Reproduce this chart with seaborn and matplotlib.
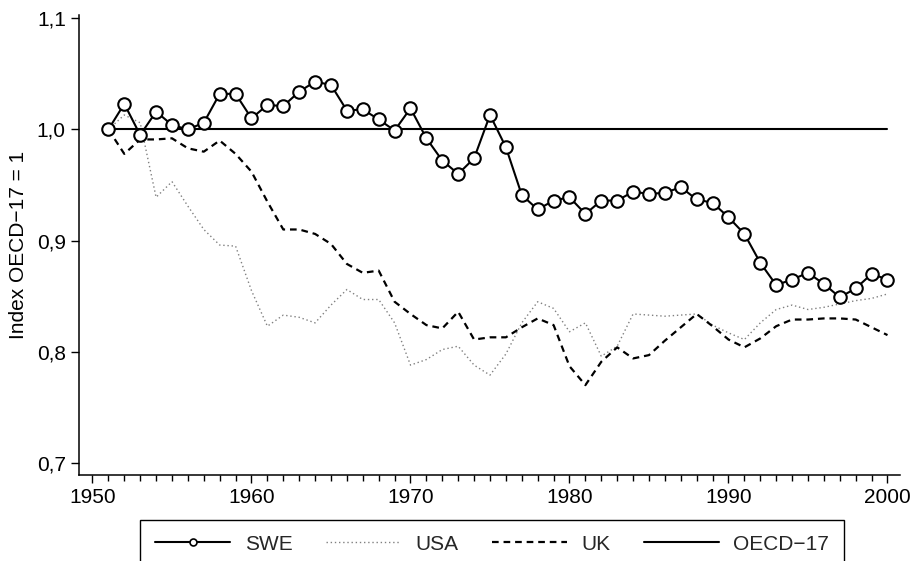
import matplotlib
matplotlib.use("Agg")
import matplotlib.pyplot as plt
import matplotlib.ticker as mticker
import pandas as pd
import seaborn as sns

years = list(range(1951, 2001))

swe = [
    1.000, 1.023, 0.995, 1.016, 1.004, 1.000, 1.006, 1.032, 1.032, 1.010,
    1.022, 1.021, 1.034, 1.043, 1.040, 1.017, 1.018, 1.009, 0.999, 1.019,
    0.992, 0.972, 0.960, 0.974, 1.013, 0.984, 0.941, 0.928, 0.936, 0.939,
    0.924, 0.936, 0.936, 0.944, 0.942, 0.943, 0.948, 0.937, 0.934, 0.921,
    0.906, 0.880, 0.860, 0.865, 0.871, 0.861, 0.849, 0.857, 0.870, 0.865,
]
usa = [
    1.000, 1.013, 1.006, 0.939, 0.953, 0.931, 0.910, 0.896, 0.895, 0.855,
    0.823, 0.833, 0.831, 0.826, 0.842, 0.856, 0.847, 0.847, 0.826, 0.788,
    0.793, 0.802, 0.805, 0.788, 0.779, 0.798, 0.826, 0.845, 0.839, 0.818,
    0.826, 0.796, 0.805, 0.834, 0.833, 0.832, 0.833, 0.834, 0.824, 0.817,
    0.811, 0.826, 0.838, 0.842, 0.838, 0.840, 0.843, 0.846, 0.848, 0.852,
]
uk = [
    1.000, 0.978, 0.991, 0.991, 0.992, 0.983, 0.980, 0.990, 0.978, 0.962,
    0.935, 0.910, 0.910, 0.906, 0.897, 0.879, 0.871, 0.873, 0.845, 0.834,
    0.824, 0.821, 0.836, 0.811, 0.813, 0.813, 0.822, 0.830, 0.824, 0.787,
    0.770, 0.791, 0.804, 0.794, 0.797, 0.810, 0.822, 0.834, 0.823, 0.811,
    0.804, 0.812, 0.823, 0.829, 0.829, 0.830, 0.830, 0.829, 0.822, 0.815,
]
oecd = [1.0] * len(years)

y_ticks = [0.7, 0.8, 0.9, 1.0, 1.1]
x_ticks = [1950, 1960, 1970, 1980, 1990, 2000]
y_label = "Index OECD\u221217 = 1"

df = pd.DataFrame({"year": years, "SWE": swe, "USA": usa, "UK": uk, "OECD\u221217": oecd})

sns.set_theme(style="ticks")
plt.rcParams["font.family"] = ["Liberation Sans", "DejaVu Sans"]

fig = plt.figure(figsize=(9.13, 5.61), dpi=100)
ax = fig.add_axes([0.0865, 0.153, 0.8995, 0.82])

sns.lineplot(data=df, x="year", y="SWE", ax=ax, color="black", linewidth=1.5,
             marker="o", markersize=9, markerfacecolor="white",
             markeredgecolor="black", markeredgewidth=1.5, label="SWE", zorder=4)
sns.lineplot(data=df, x="year", y="USA", ax=ax, color="#808080", linewidth=1.0,
             label="USA", zorder=2)
sns.lineplot(data=df, x="year", y="UK", ax=ax, color="black", linewidth=1.6,
             label="UK", zorder=3)
sns.lineplot(data=df, x="year", y="OECD\u221217", ax=ax, color="black",
             linewidth=1.5, label="OECD\u221217", zorder=3)

lines = ax.get_lines()
lines[1].set_dashes((1, 2))
lines[2].set_dashes((3, 2.2))

ax.set_xlim(1949.15, 2000.8)
ax.set_ylim(0.689, 1.1028)
ax.set_xticks(x_ticks)
ax.xaxis.set_minor_locator(mticker.MultipleLocator(1))
ax.set_yticks(y_ticks)
ax.yaxis.set_major_formatter(
    mticker.FuncFormatter(lambda v, _: f"{v:.1f}".replace(".", ","))
)
ax.tick_params(axis="both", which="major", direction="out", length=6,
               width=1, color="black", labelsize=15, labelcolor="black")
ax.tick_params(axis="x", which="minor", direction="out", length=4,
               width=1, color="black")
ax.set_xlabel("")
ax.set_ylabel(y_label, fontsize=15, color="black", labelpad=6)
sns.despine(ax=ax)
for side in ["left", "bottom"]:
    ax.spines[side].set_color("black")
    ax.spines[side].set_linewidth(1.1)

leg = ax.legend(loc="center", bbox_to_anchor=(0.539, 0.030),
                bbox_transform=fig.transFigure, ncol=4, fontsize=15,
                frameon=True, fancybox=False, edgecolor="black",
                handlelength=3.6, handletextpad=0.7, columnspacing=1.6,
                borderpad=0.7)
leg.get_frame().set_linewidth(1.0)
leg.get_frame().set_alpha(1)
for h in leg.get_lines():
    h.set_markersize(5)
    h.set_markeredgewidth(1.2)

fig.savefig("out.png", dpi=100)
